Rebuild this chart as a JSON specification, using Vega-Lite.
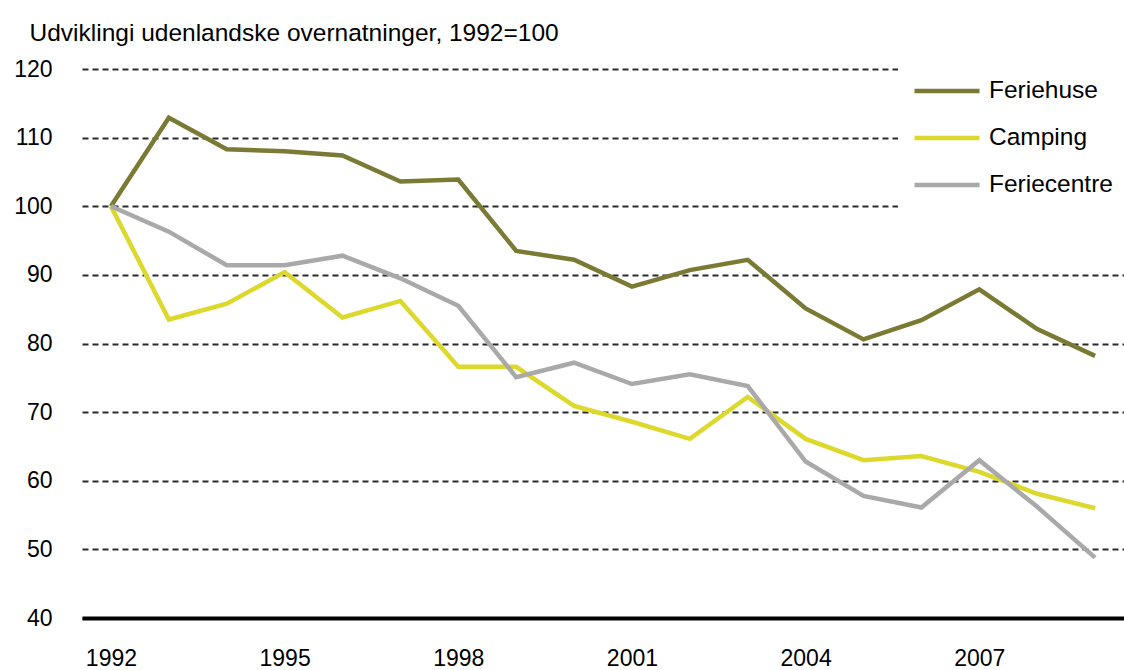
{
  "$schema": "https://vega.github.io/schema/vega-lite/v6.json",
  "width": 1042,
  "height": 549,
  "autosize": "none",
  "padding": {"left": 82, "top": 69, "right": 0, "bottom": 52},
  "background": "white",
  "config": {
    "view": {"stroke": null},
    "font": "Liberation Sans"
  },
  "data": {
    "values": [
      {"year": 1992, "series": "Feriehuse", "value": 100},
      {"year": 1993, "series": "Feriehuse", "value": 112.9},
      {"year": 1994, "series": "Feriehuse", "value": 108.3},
      {"year": 1995, "series": "Feriehuse", "value": 108.0},
      {"year": 1996, "series": "Feriehuse", "value": 107.4},
      {"year": 1997, "series": "Feriehuse", "value": 103.6},
      {"year": 1998, "series": "Feriehuse", "value": 103.9},
      {"year": 1999, "series": "Feriehuse", "value": 93.5},
      {"year": 2000, "series": "Feriehuse", "value": 92.2},
      {"year": 2001, "series": "Feriehuse", "value": 88.3},
      {"year": 2002, "series": "Feriehuse", "value": 90.7},
      {"year": 2003, "series": "Feriehuse", "value": 92.2},
      {"year": 2004, "series": "Feriehuse", "value": 85.1},
      {"year": 2005, "series": "Feriehuse", "value": 80.6},
      {"year": 2006, "series": "Feriehuse", "value": 83.4},
      {"year": 2007, "series": "Feriehuse", "value": 87.9},
      {"year": 2008, "series": "Feriehuse", "value": 82.1},
      {"year": 2009, "series": "Feriehuse", "value": 78.2},
      {"year": 1992, "series": "Camping", "value": 100},
      {"year": 1993, "series": "Camping", "value": 83.5},
      {"year": 1994, "series": "Camping", "value": 85.8},
      {"year": 1995, "series": "Camping", "value": 90.4},
      {"year": 1996, "series": "Camping", "value": 83.8},
      {"year": 1997, "series": "Camping", "value": 86.2},
      {"year": 1998, "series": "Camping", "value": 76.6},
      {"year": 1999, "series": "Camping", "value": 76.6},
      {"year": 2000, "series": "Camping", "value": 70.9},
      {"year": 2001, "series": "Camping", "value": 68.6},
      {"year": 2002, "series": "Camping", "value": 66.1},
      {"year": 2003, "series": "Camping", "value": 72.2},
      {"year": 2004, "series": "Camping", "value": 66.1},
      {"year": 2005, "series": "Camping", "value": 63.0},
      {"year": 2006, "series": "Camping", "value": 63.6},
      {"year": 2007, "series": "Camping", "value": 61.3},
      {"year": 2008, "series": "Camping", "value": 58.1},
      {"year": 2009, "series": "Camping", "value": 56.0},
      {"year": 1992, "series": "Feriecentre", "value": 100},
      {"year": 1993, "series": "Feriecentre", "value": 96.3},
      {"year": 1994, "series": "Feriecentre", "value": 91.4},
      {"year": 1995, "series": "Feriecentre", "value": 91.4},
      {"year": 1996, "series": "Feriecentre", "value": 92.8},
      {"year": 1997, "series": "Feriecentre", "value": 89.5},
      {"year": 1998, "series": "Feriecentre", "value": 85.5},
      {"year": 1999, "series": "Feriecentre", "value": 75.1},
      {"year": 2000, "series": "Feriecentre", "value": 77.2},
      {"year": 2001, "series": "Feriecentre", "value": 74.1},
      {"year": 2002, "series": "Feriecentre", "value": 75.5},
      {"year": 2003, "series": "Feriecentre", "value": 73.8},
      {"year": 2004, "series": "Feriecentre", "value": 62.8},
      {"year": 2005, "series": "Feriecentre", "value": 57.8},
      {"year": 2006, "series": "Feriecentre", "value": 56.1},
      {"year": 2007, "series": "Feriecentre", "value": 63.0},
      {"year": 2008, "series": "Feriecentre", "value": 56.2},
      {"year": 2009, "series": "Feriecentre", "value": 48.8}
    ]
  },
  "mark": {"type": "line", "strokeWidth": 4.5, "strokeJoin": "miter", "clip": false},
  "encoding": {
    "x": {
      "field": "year",
      "type": "quantitative",
      "scale": {"domain": [1991.5, 2009.5], "nice": false, "zero": false},
      "axis": {
        "title": null,
        "values": [1992, 1995, 1998, 2001, 2004, 2007],
        "format": "d",
        "grid": false,
        "ticks": false,
        "domain": true,
        "domainColor": "#000000",
        "domainWidth": 4,
        "labelPadding": 29,
        "labelFont": "Liberation Sans",
        "labelFontSize": 23,
        "labelColor": "#000000",
        "labelFlush": false
      }
    },
    "y": {
      "field": "value",
      "type": "quantitative",
      "scale": {"domain": [40, 120], "nice": false, "zero": false},
      "axis": {
        "title": "Udviklingi udenlandske overnatninger, 1992=100",
        "titleAngle": 0,
        "titleAlign": "left",
        "titleBaseline": "alphabetic",
        "titleX": -53,
        "titleY": -29,
        "titleFont": "Liberation Sans",
        "titleFontSize": 24.5,
        "titleFontWeight": "normal",
        "titleColor": "#000000",
        "values": [40, 50, 60, 70, 80, 90, 100, 110, 120],
        "grid": true,
        "gridColor": "#2a2a2a",
        "gridDash": [6, 4],
        "gridWidth": 2,
        "ticks": false,
        "domain": false,
        "labelPadding": 30,
        "labelFont": "Liberation Sans",
        "labelFontSize": 23,
        "labelColor": "#000000"
      }
    },
    "color": {
      "field": "series",
      "type": "nominal",
      "scale": {
        "domain": ["Feriehuse", "Camping", "Feriecentre"],
        "range": ["#7a7a34", "#dcd82c", "#a9a9a9"]
      },
      "legend": {
        "title": null,
        "orient": "none",
        "legendX": 816,
        "legendY": -27,
        "fillColor": "white",
        "strokeColor": null,
        "padding": 14,
        "symbolType": "stroke",
        "symbolSize": 4225,
        "symbolStrokeWidth": 4.5,
        "labelFont": "Liberation Sans",
        "labelFontSize": 24.5,
        "labelColor": "#000000",
        "labelOffset": 7,
        "rowPadding": 0
      }
    }
  }
}
